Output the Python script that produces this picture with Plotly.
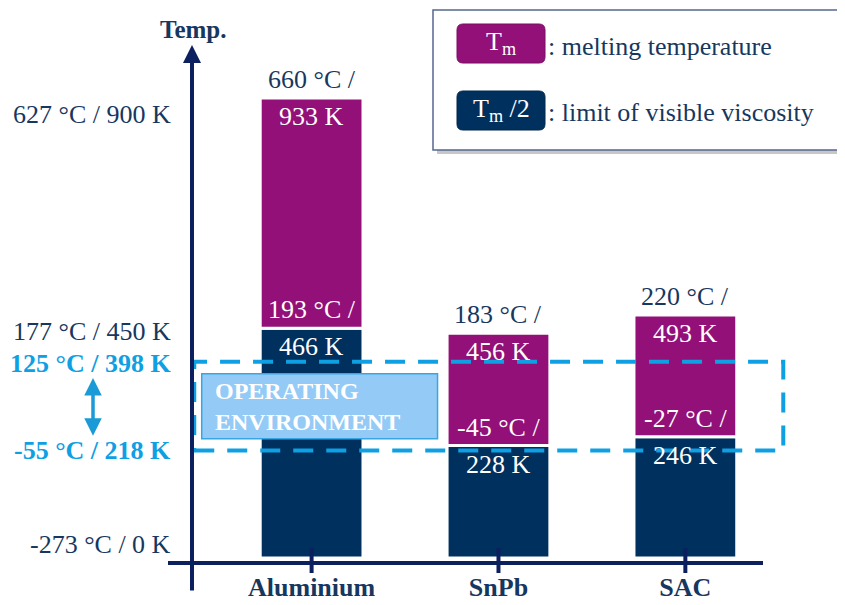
import plotly.graph_objects as go

# ---------------- data ----------------
categories = ["Aluminium", "SnPb", "SAC"]
melt_K = [933, 456, 493]          # Tm in kelvin
melt_C = [660, 183, 220]          # Tm in °C
half_K = [466, 228, 246]          # Tm/2 in kelvin
half_C = [193, -45, -27]          # Tm/2 in °C

tick_K = [0, 218, 398, 450, 900]
tick_labels = ["-273 °C / 0 K", "-55 °C / 218 K", "125 °C / 398 K",
               "177 °C / 450 K", "627 °C / 900 K"]
tick_highlight = [False, True, True, False, False]

op_range_K = [218, 398]
op_label = "OPERATING<br>ENVIRONMENT"

legend_swatch = ["T<sub>m</sub>", "T<sub>m</sub> /2"]
legend_text = [": melting temperature", ": limit of visible viscosity"]

# ---------------- style ----------------
FONT = "Liberation Serif"
PURPLE = "#921077"
NAVY = "#00305e"
TEXT = "#17375e"
BLUE = "#0ea0e3"
AXIS = "#0c1f5e"
OFF = 8                      # page body margin
W, H = 845 - OFF, 605 - OFF
ML, MR, MT, MB = 192 - OFF, 55, 45 - OFF, 42
PW, PH = W - ML - MR, H - MT - MB
TICK_NUDGE = {0: 14, 398: -2, 450: 5}   # small pixel nudges so labels don't collide


def px(x):
    """page pixel x -> paper"""
    return (x - OFF - ML) / PW


def py(y):
    """page pixel y -> paper"""
    return (H - MB - (y - OFF)) / PH


xs = list(range(len(categories)))
fig = go.Figure()
fig.add_trace(go.Bar(x=xs, y=half_K, base=[0] * len(xs), width=0.55,
                     marker=dict(color=NAVY, line=dict(color="white", width=3)),
                     hoverinfo="skip", showlegend=False))
fig.add_trace(go.Bar(x=xs, y=[m - h for m, h in zip(melt_K, half_K)], base=half_K,
                     width=0.55,
                     marker=dict(color=PURPLE, line=dict(color="white", width=3)),
                     hoverinfo="skip", showlegend=False))

ann = []
lab_font = dict(family=FONT, size=26)
for i in xs:
    ann.append(dict(x=i, y=melt_K[i], text=f"{melt_C[i]} °C /", showarrow=False,
                    yanchor="bottom", yshift=2, font=dict(lab_font, color=TEXT)))
    ann.append(dict(x=i, y=melt_K[i], text=f"{melt_K[i]} K", showarrow=False,
                    yanchor="top", yshift=-2, font=dict(lab_font, color="white")))
    ann.append(dict(x=i, y=half_K[i], text=f"{half_C[i]} °C /", showarrow=False,
                    yanchor="bottom", yshift=2, font=dict(lab_font, color="white")))
    ann.append(dict(x=i, y=half_K[i], text=f"{half_K[i]} K", showarrow=False,
                    yanchor="top", yshift=-2, font=dict(lab_font, color="white")))

# y axis tick labels
for v, t, hl in zip(tick_K, tick_labels, tick_highlight):
    txt = f"<b>{t}</b>" if hl else t
    ann.append(dict(x=px(173), y=v, xref="paper", yref="y", xanchor="right",
                    yanchor="middle", text=txt, showarrow=False,
                    yshift=TICK_NUDGE.get(v, 0),
                    font=dict(family=FONT, size=26, color=BLUE if hl else TEXT)))

# y axis arrow and title
ann.append(dict(x=0, y=1, xref="paper", yref="paper", ax=0, ay=547,
                axref="pixel", ayref="pixel", text="", showarrow=True,
                arrowhead=2, arrowsize=0.9, arrowwidth=4, arrowcolor=AXIS))
ann.append(dict(x=px(193), y=py(29), xref="paper", yref="paper", text="<b>Temp.</b>",
                xanchor="center", yanchor="middle",
                showarrow=False, font=dict(family=FONT, size=25, color=TEXT)))

# operating environment double arrow
ann.append(dict(x=px(93), y=op_range_K[0] + 30, xref="paper", yref="y",
                ax=0, axref="pixel", ay=op_range_K[1] - 30, ayref="y", text="",
                showarrow=True, arrowhead=2, arrowside="end+start", arrowsize=1,
                arrowwidth=3.5, arrowcolor="#1a9ad6"))

# operating environment label
op_mid = sum(op_range_K) / 2
ann.append(dict(x=-0.53, y=op_mid, xanchor="left", yanchor="middle", align="left",
                text=f"<b>{op_label}</b>", showarrow=False,
                font=dict(family=FONT, size=24, color="white")))

# legend texts
for k in range(2):
    ann.append(dict(x=px(501), y=py([43, 110][k]), xref="paper", yref="paper",
                    xanchor="center", yanchor="middle", text=legend_swatch[k],
                    showarrow=False, font=dict(family=FONT, size=26, color="white")))
    ann.append(dict(x=px(546), y=py([46, 113][k]), xref="paper", yref="paper",
                    xanchor="left", yanchor="middle", text=legend_text[k], showarrow=False,
                    font=dict(family=FONT, size=26, color=TEXT)))


def rounded(x0, y0, x1, y1, r=6):
    rx, ry = r / PW, r / PH
    a0, b0, a1, b1 = px(x0), py(y1), px(x1), py(y0)
    return (f"M {a0+rx},{b0} L {a1-rx},{b0} Q {a1},{b0} {a1},{b0+ry} "
            f"L {a1},{b1-ry} Q {a1},{b1} {a1-rx},{b1} L {a0+rx},{b1} "
            f"Q {a0},{b1} {a0},{b1-ry} L {a0},{b0+ry} Q {a0},{b0} {a0+rx},{b0} Z")


shapes = []
# legend frame with shadow
shapes.append(dict(type="rect", xref="paper", yref="paper", x0=px(437), x1=px(860),
                   y0=py(154), y1=py(14), line=dict(width=0),
                   fillcolor="rgba(0,0,0,0.22)", layer="above"))
shapes.append(dict(type="rect", xref="paper", yref="paper", x0=px(433), x1=px(858),
                   y0=py(150), y1=py(10), line=dict(color="#55688f", width=1.5),
                   fillcolor="white", layer="above"))
shapes.append(dict(type="path", xref="paper", yref="paper", path=rounded(457, 24, 545, 63),
                   fillcolor=PURPLE, line=dict(color="#7a0d63", width=1), layer="above"))
shapes.append(dict(type="path", xref="paper", yref="paper", path=rounded(457, 91, 545, 130),
                   fillcolor=NAVY, line=dict(color="#00264b", width=1), layer="above"))

# operating environment dashed frame
shapes.append(dict(type="rect", xref="x", yref="y", x0=-0.628, x1=2.524,
                   y0=op_range_K[0], y1=op_range_K[1],
                   line=dict(color=BLUE, width=4, dash="20px,13px"), layer="above"))
# operating environment label box
shapes.append(dict(type="rect", xref="x", yref="y", x0=-0.588, x1=0.674,
                   y0=op_mid - 66, y1=op_mid + 66,
                   line=dict(color="#39a6e3", width=1.5), fillcolor="#94caf6", layer="above"))

# x axis line
shapes.append(dict(type="line", xref="paper", yref="paper", x0=px(168), x1=px(763),
                   y0=0, y1=0, line=dict(color=AXIS, width=4), layer="above"))
# category ticks crossing the axis
for i in xs:
    shapes.append(dict(type="line", xref="x", yref="paper", x0=i, x1=i, y0=-10 / PH,
                       y1=15 / PH, line=dict(color=AXIS, width=4), layer="above"))

fig.update_layout(
    width=W, height=H,
    margin=dict(l=ML, r=MR, t=MT, b=MB),
    paper_bgcolor="white", plot_bgcolor="white",
    barmode="overlay", showlegend=False,
    annotations=ann, shapes=shapes,
    xaxis=dict(range=[-0.64, 2.56], tickvals=xs,
               ticktext=[f"<b>{c}</b>" for c in categories],
               tickfont=dict(family=FONT, size=26, color=TEXT),
               ticks="outside", ticklen=1, tickcolor="rgba(0,0,0,0)",
               showgrid=False, zeroline=False, showline=False, automargin=False),
    yaxis=dict(range=[-10.1, 1040.6], showticklabels=False, ticks="",
               showgrid=False, zeroline=False, showline=False, automargin=False),
)

fig.write_html("out.html")
